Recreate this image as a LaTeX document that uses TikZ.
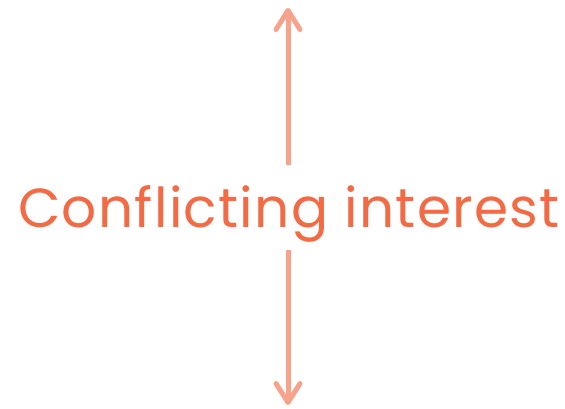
\documentclass[tikz,border=0pt]{standalone}
\usepackage{fontspec}
\setmainfont{Poppins}[LetterSpace=2.4]
\usetikzlibrary{arrows.meta}
\definecolor{txtcol}{HTML}{F26B45}
\definecolor{arrcol}{HTML}{F7A28A}
\tikzset{
  conflict/.style={text=txtcol, font=\fontsize{55}{60}\selectfont, inner sep=0pt},
  arr/.style={draw=arrcol, line width=5pt, -{Straight Barb[length=19pt,width=24pt,round]}}
}
\begin{document}
\begin{tikzpicture}[x=1pt,y=-1pt]
\useasboundingbox (0,0) rectangle (565,408);
\node[conflict, anchor=base] (label) at (289,227) {Conflicting interest};
\coordinate (topstart) at (288,165);
\coordinate (toptip) at (288,8);
\coordinate (botstart) at (288,250);
\coordinate (bottip) at (288,405);
\draw[arr] (topstart) -- (toptip);
\draw[arr] (botstart) -- (bottip);
\end{tikzpicture}
\end{document}
